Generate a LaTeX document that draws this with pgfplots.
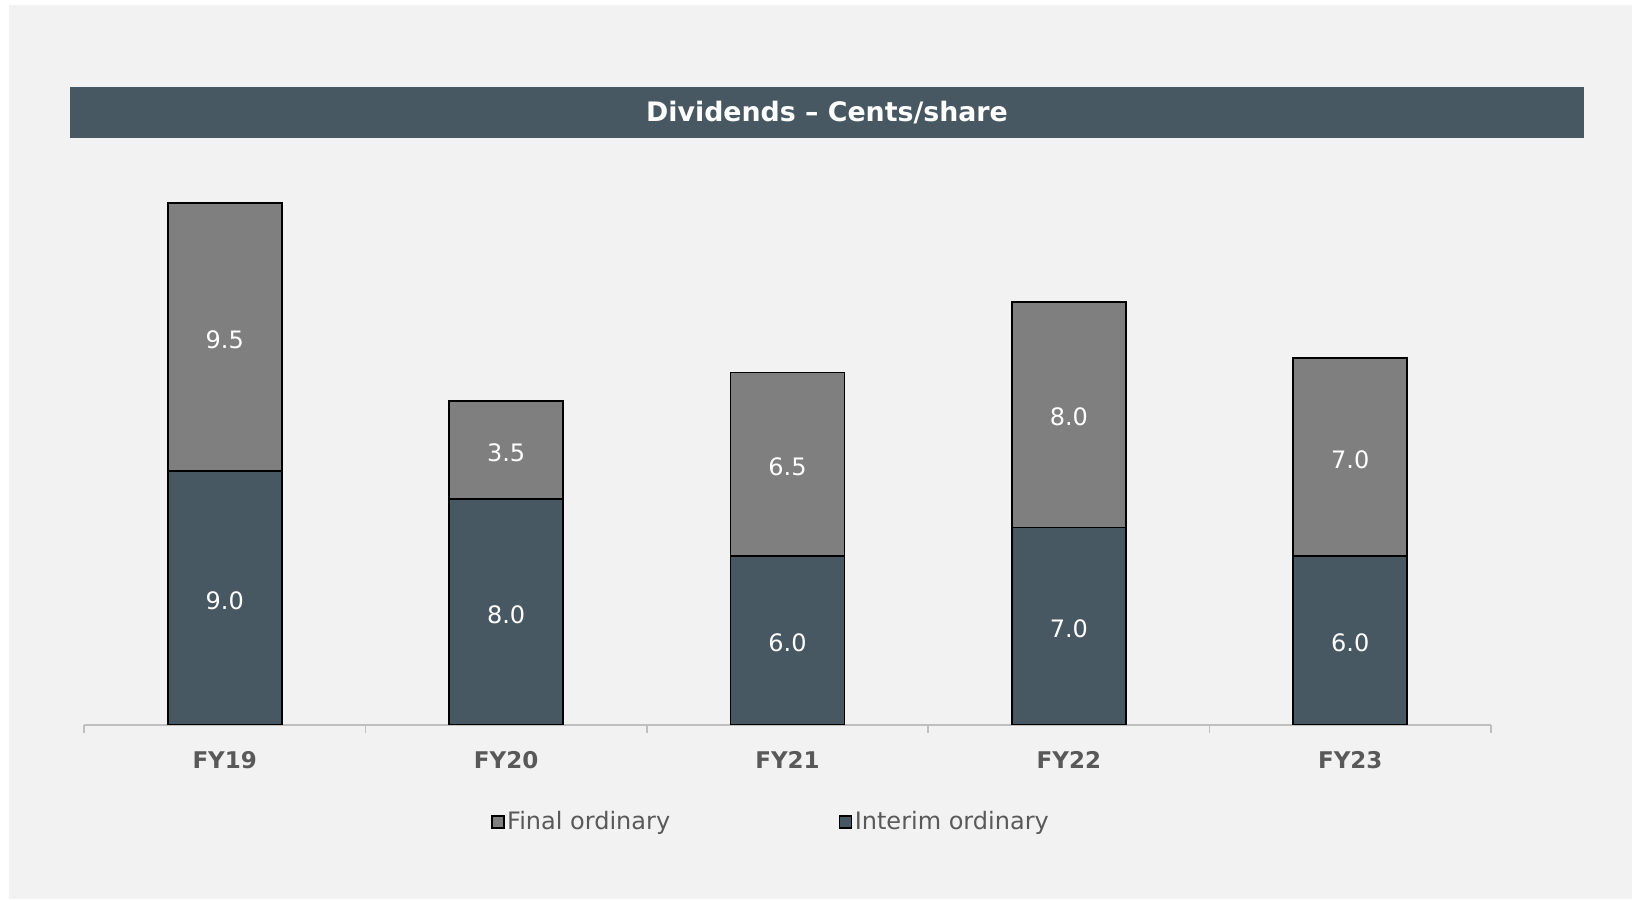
\documentclass[border=0pt]{standalone}
\usepackage{fontspec}
\setmainfont{DejaVu Sans}
\usepackage{pgfplots}
\pgfplotsset{compat=1.18}
\definecolor{bgc}{RGB}{242,242,242}
\definecolor{darkc}{RGB}{71,88,98}
\definecolor{greyc}{RGB}{127,127,127}
\definecolor{axc}{RGB}{191,191,191}
\definecolor{labc}{RGB}{89,89,89}
\begin{document}
\begin{tikzpicture}
\fill[white] (0,0) rectangle (816pt,449.5pt);
\fill[bgc] (4.5pt,0) rectangle (816pt,447pt);
\fill[darkc] (35pt,380.5pt) rectangle (792pt,406pt);
\node[text=white,font=\bfseries\fontsize{13.4}{15}\selectfont] at (413.5pt,393.25pt) {Dividends – Cents/share};
\begin{axis}[
  at={(42pt,87pt)}, anchor=south west,
  scale only axis, width=703.5pt, height=282pt,
  xmin=-0.5, xmax=4.5, ymin=0, ymax=20,
  axis y line=none, axis x line*=bottom,
  x axis line style={draw=axc, line width=0.8pt},
  xtick={0,1,2,3,4},
  xticklabels={FY19,FY20,FY21,FY22,FY23},
  major tick length=0pt,
  xticklabel style={font=\bfseries\fontsize{11.5}{13}\selectfont, text=labc, yshift=-9.5pt},
  extra x ticks={-0.5,0.5,1.5,2.5,3.5,4.5},
  extra x tick labels={},
  extra x tick style={major tick length=4pt, tick align=outside, tick style={draw=axc, line width=0.8pt}},
  ybar stacked, bar width=57pt,
  point meta=rawy,
  nodes near coords={\pgfmathprintnumber[fixed,fixed zerofill,precision=1,assume math mode=true]{\pgfplotspointmeta}},
  every node near coord/.append style={anchor=center, yshift=-1.2pt, text=white, font=\fontsize{12}{14}\selectfont},
  legend columns=2,
  reverse legend,
  legend style={draw=none, fill=none, at={(0.289,-0.172)}, anchor=west, inner sep=0pt,
    font=\fontsize{12}{14}\selectfont, text=labc,
    nodes={inner sep=1.2pt},
    /tikz/every even column/.append style={column sep=83pt}},
  legend image code/.code={\draw[#1, line width=0.9pt] (-2pt,-3pt) rectangle (4pt,3pt);},
]
\addplot+[fill=darkc, draw=black, line width=0.9pt] coordinates {(0,9) (1,8) (2,6) (3,7) (4,6)};
\addlegendentry{Interim ordinary}
\addplot+[fill=greyc, draw=black, line width=0.9pt] coordinates {(0,9.5) (1,3.5) (2,6.5) (3,8) (4,7)};
\addlegendentry{Final ordinary}
\end{axis}
\end{tikzpicture}
\end{document}
